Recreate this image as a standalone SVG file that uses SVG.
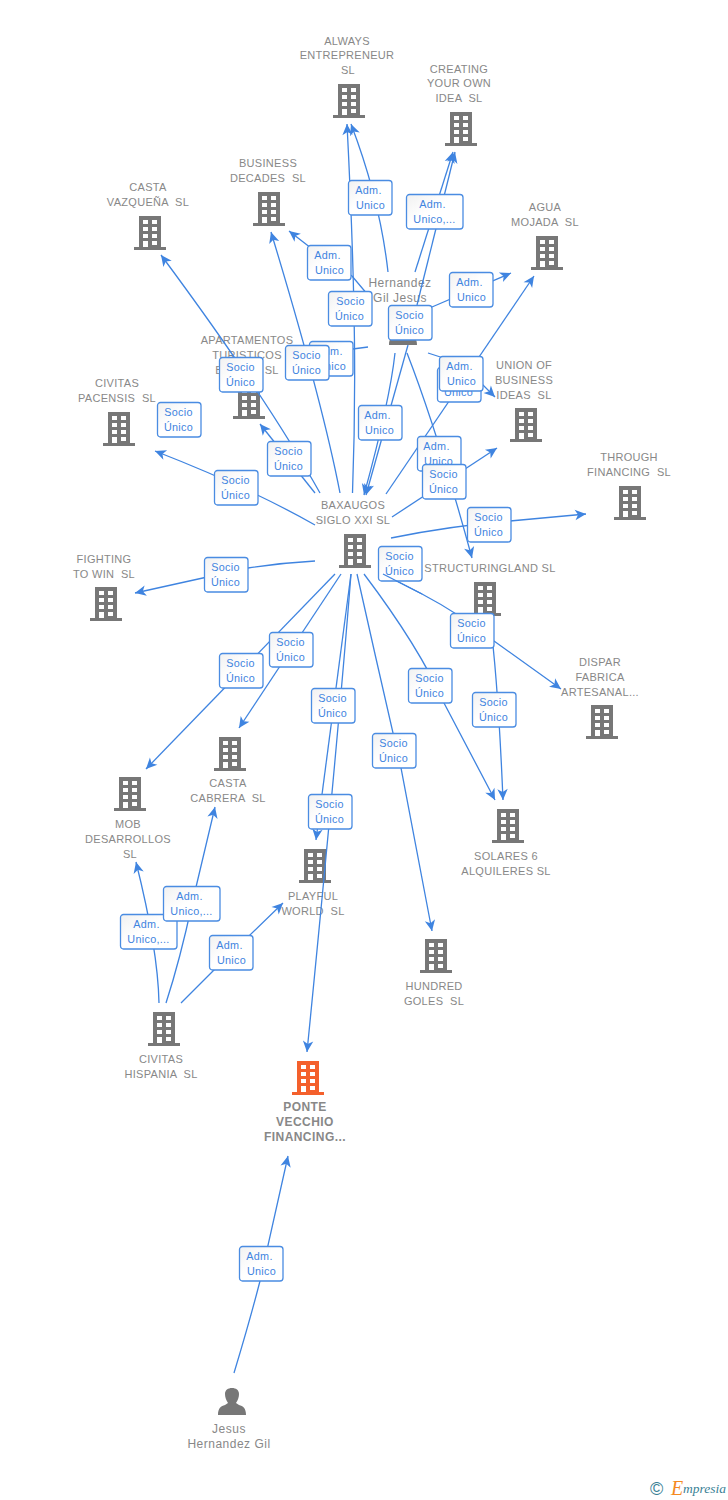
<svg xmlns="http://www.w3.org/2000/svg" width="728" height="1500" viewBox="0 0 728 1500">
<style>
text{font-family:"Liberation Sans",Arial,sans-serif;white-space:pre}
.n{font-size:11px;letter-spacing:.3px;fill:#888;text-anchor:middle}
.pn{font-size:12px;letter-spacing:.5px}
.o{font-weight:700;font-size:12px;letter-spacing:.45px}
.c path{fill:none;stroke:#3f84e0;stroke-width:1.3;marker-end:url(#a)}
.c path.p{marker-end:none}
.b rect{width:43.5px;height:34.5px;rx:3px;fill:url(#g);stroke:#4a8ce2;stroke-width:1.3}
.b rect.w{width:56.5px}
.b text{font-size:10.8px;letter-spacing:.3px;fill:#3f84e0;text-anchor:middle}
</style>
<defs>
<linearGradient id="g" x1="0" y1="0" x2="1" y2="1"><stop offset="0" stop-color="#f1f1f1"/><stop offset=".45" stop-color="#fff"/></linearGradient>
<marker id="a" markerUnits="userSpaceOnUse" markerWidth="14" markerHeight="14" viewBox="-12 -7 14 14" refX="0" refY="0" orient="auto"><path d="M0,0L-11,-5.2L-8,0L-11,5.2Z" fill="#3f84e0"/></marker>
<symbol id="bd" viewBox="0 0 32 34" width="32" height="34" overflow="visible">
<path fill-rule="evenodd" d="M5,0H27V31H32V34H0V31H5ZM9,4V8H14V4ZM18,4V8H23V4ZM9,11V15H14V11ZM18,11V15H23V11ZM9,18V22H14V18ZM18,18V22H23V18ZM9,25V31H14V25ZM18,25V29H23V25Z" fill="#777"/>
</symbol>
<symbol id="bo" viewBox="0 0 32 34" width="32" height="34" overflow="visible">
<path fill-rule="evenodd" d="M5,0H27V31H32V34H0V31H5ZM9,4V8H14V4ZM18,4V8H23V4ZM9,11V15H14V11ZM18,11V15H23V11ZM9,18V22H14V18ZM18,18V22H23V18ZM9,25V31H14V25ZM18,25V29H23V25Z" fill="#f4602c"/>
</symbol>
<path id="pr" d="M218,1415C218,1408 221,1406 225,1405L228,1403C226,1400 225,1397 225,1394C225,1390 228,1388 232,1388C236,1388 239,1390 239,1394C239,1397 238,1400 236,1403L239,1405C243,1406 246,1408 246,1415Z" fill="#777"/>
</defs>
<rect width="728" height="1500" fill="#fff"/>

<g id="nodes">
<g id="n-always"><use href="#bd" x="333" y="84"/><text class="n" x="347" y="45">ALWAYS</text><text class="n" x="347" y="59">ENTREPRENEUR</text><text class="n" x="348" y="74">SL</text></g>
<g id="n-creating"><use href="#bd" x="445" y="112"/><text class="n" x="459" y="73">CREATING</text><text class="n" x="459" y="87">YOUR OWN</text><text class="n" x="459" y="102">IDEA  SL</text></g>
<g id="n-business"><use href="#bd" x="253" y="192"/><text class="n" x="268" y="167">BUSINESS</text><text class="n" x="268" y="182">DECADES  SL</text></g>
<g id="n-casta-v"><use href="#bd" x="134" y="216"/><text class="n" x="148" y="191">CASTA</text><text class="n" x="148" y="206">VAZQUEÑA  SL</text></g>
<g id="n-agua"><use href="#bd" x="531" y="236"/><text class="n" x="545" y="211">AGUA</text><text class="n" x="545" y="226">MOJADA  SL</text></g>
<g id="n-hernandez"><use href="#pr" x="171" y="-1070"/><text class="n pn" x="400" y="287">Hernandez</text><text class="n pn" x="400" y="302">Gil Jesus</text></g>
<g id="n-apartamentos"><use href="#bd" x="233" y="385"/><text class="n" x="247" y="344">APARTAMENTOS</text><text class="n" x="247" y="359">TURISTICOS</text><text class="n" x="247" y="374">BAIXOS  SL</text></g>
<g id="n-pacensis"><use href="#bd" x="103" y="412"/><text class="n" x="117" y="387">CIVITAS</text><text class="n" x="117" y="402">PACENSIS  SL</text></g>
<g id="n-union"><use href="#bd" x="510" y="408"/><text class="n" x="524" y="369">UNION OF</text><text class="n" x="524" y="384">BUSINESS</text><text class="n" x="524" y="399">IDEAS  SL</text></g>
<g id="n-through"><use href="#bd" x="614" y="486"/><text class="n" x="629" y="461">THROUGH</text><text class="n" x="629" y="476">FINANCING  SL</text></g>
<g id="n-baxaugos"><use href="#bd" x="339" y="534"/><text class="n" x="353" y="509">BAXAUGOS</text><text class="n" x="353" y="524">SIGLO XXI SL</text></g>
<g id="n-fighting"><use href="#bd" x="90" y="587"/><text class="n" x="104" y="563">FIGHTING</text><text class="n" x="104" y="578">TO WIN  SL</text></g>
<g id="n-structuring"><use href="#bd" x="469" y="582"/><text class="n" x="490" y="572">STRUCTURINGLAND SL</text></g>
<g id="n-dispar"><use href="#bd" x="586" y="705"/><text class="n" x="600" y="666">DISPAR</text><text class="n" x="600" y="681">FABRICA</text><text class="n" x="600" y="696">ARTESANAL...</text></g>
<g id="n-cabrera"><use href="#bd" x="214" y="737"/><text class="n" x="228" y="787">CASTA</text><text class="n" x="228" y="802">CABRERA  SL</text></g>
<g id="n-mob"><use href="#bd" x="114" y="777"/><text class="n" x="128" y="828">MOB</text><text class="n" x="128" y="843">DESARROLLOS</text><text class="n" x="130" y="858">SL</text></g>
<g id="n-solares"><use href="#bd" x="492" y="809"/><text class="n" x="506" y="860">SOLARES 6</text><text class="n" x="506" y="875">ALQUILERES SL</text></g>
<g id="n-playful"><use href="#bd" x="299" y="849"/><text class="n" x="313" y="900">PLAYFUL</text><text class="n" x="313" y="915">WORLD  SL</text></g>
<g id="n-hundred"><use href="#bd" x="420" y="939"/><text class="n" x="434" y="990">HUNDRED</text><text class="n" x="434" y="1005">GOLES  SL</text></g>
<g id="n-hispania"><use href="#bd" x="148" y="1012"/><text class="n" x="161" y="1063">CIVITAS</text><text class="n" x="161" y="1078">HISPANIA  SL</text></g>
<g id="n-ponte"><use href="#bo" x="292" y="1061"/><text class="n o" x="305" y="1111">PONTE</text><text class="n o" x="305" y="1126">VECCHIO</text><text class="n o" x="305" y="1141">FINANCING...</text></g>
<g id="n-jesus"><use href="#pr"/><text class="n pn" x="229" y="1433">Jesus</text><text class="n pn" x="229" y="1448">Hernandez Gil</text></g>
</g>

<g id="connectors" class="c">
<path d="M388,272Q380,200 351,124"/>
<path d="M415,272L453,152"/>
<path d="M417,305L455,152"/>
<path d="M368,295L352,276L329,262L289,231"/>
<path d="M432,307L511,273"/>
<path class="p" d="M368,347L345,350"/>
<path d="M428,353L462,364L495,397"/>
<path d="M395,353Q390,400 364,495"/>
<path d="M408,345L366,495"/>
<path d="M407,353Q437,430 472,558"/>
<path d="M392,517L497,448"/>
<path d="M391,538Q450,526 510,521L586,514"/>
<path d="M352.500,493C356,400 356,300 347,124"/>
<path d="M340,493Q322,400 271,232"/>
<path d="M320,493Q265,395 161,255"/>
<path d="M315,493L260,424"/>
<path d="M386,494L534,276"/>
<path d="M315,525Q250,488 155,451"/>
<path d="M315,561Q280,563 248,568L135,593"/>
<path d="M335,574L146,769"/>
<path d="M341,574L239,728"/>
<path d="M351,574L316,840"/>
<path d="M351,574Q338,740 307,1052"/>
<path d="M357,574C372,640 385,700 401,768L432,931"/>
<path d="M364,574C395,615 425,660 444,703L495,800"/>
<path d="M383,574L422,594Q460,614 494,641L561,689"/>
<path d="M490,620Q498,680 503,800"/>
<path d="M159,1003Q158,950 136,862"/>
<path d="M166,1003Q180,960 192,904L215,807"/>
<path d="M181,1003L214,970L283,903"/>
<path d="M234,1373Q250,1320 260,1281L288,1156"/>
</g>

<g id="edge-labels" class="b">
<g transform="translate(348.500,180.500)"><rect/><text x="20" y="13">Adm.</text><text x="22" y="28">Unico</text></g>
<g transform="translate(406.500,194.500)"><rect class="w"/><text x="26" y="13">Adm.</text><text x="28" y="28">Unico,...</text></g>
<g transform="translate(307.500,245.500)"><rect/><text x="20" y="13">Adm.</text><text x="22" y="28">Unico</text></g>
<g transform="translate(449.500,272.500)"><rect/><text x="20" y="13">Adm.</text><text x="22" y="28">Unico</text></g>
<g transform="translate(328.500,291.500)"><rect/><text x="22" y="13">Socio</text><text x="21" y="28">Único</text></g>
<g transform="translate(309.500,341.500)"><rect/><text x="20" y="13">Adm.</text><text x="22" y="28">Unico</text></g>
<g transform="translate(388.500,305.500)"><rect/><text x="21" y="13">Socio</text><text x="21" y="28">Único</text></g>
<g transform="translate(285.500,345.500)"><rect/><text x="21" y="13">Socio</text><text x="21" y="28">Único</text></g>
<g transform="translate(219.500,357.500)"><rect/><text x="21" y="13">Socio</text><text x="21" y="28">Único</text></g>
<g transform="translate(157.500,402.500)"><rect/><text x="21" y="13">Socio</text><text x="21" y="28">Único</text></g>
<g transform="translate(437.500,367.500)"><rect/><text x="21" y="13">Socio</text><text x="21" y="28">Único</text></g>
<g transform="translate(439.500,356.500)"><rect/><text x="20" y="13">Adm.</text><text x="22" y="28">Unico</text></g>
<g transform="translate(358.500,405.500)"><rect/><text x="19" y="13">Adm.</text><text x="21" y="28">Unico</text></g>
<g transform="translate(267.500,441.500)"><rect/><text x="21" y="13">Socio</text><text x="21" y="28">Único</text></g>
<g transform="translate(417.500,436.500)"><rect/><text x="19" y="13">Adm.</text><text x="21" y="28">Unico</text></g>
<g transform="translate(422.500,464.500)"><rect/><text x="21" y="13">Socio</text><text x="21" y="28">Único</text></g>
<g transform="translate(214.500,470.500)"><rect/><text x="21" y="13">Socio</text><text x="21" y="28">Único</text></g>
<g transform="translate(467.500,507.500)"><rect/><text x="21" y="13">Socio</text><text x="21" y="28">Único</text></g>
<g transform="translate(378.500,546.500)"><rect/><text x="21" y="13">Socio</text><text x="21" y="28">Único</text></g>
<g transform="translate(204.500,557.500)"><rect/><text x="21" y="13">Socio</text><text x="21" y="28">Único</text></g>
<g transform="translate(450.500,613.500)"><rect/><text x="21" y="13">Socio</text><text x="21" y="28">Único</text></g>
<g transform="translate(269.500,632.500)"><rect/><text x="21" y="13">Socio</text><text x="21" y="28">Único</text></g>
<g transform="translate(219.500,653.500)"><rect/><text x="21" y="13">Socio</text><text x="21" y="28">Único</text></g>
<g transform="translate(408.500,668.500)"><rect/><text x="21" y="13">Socio</text><text x="21" y="28">Único</text></g>
<g transform="translate(311.500,688.500)"><rect/><text x="21" y="13">Socio</text><text x="21" y="28">Único</text></g>
<g transform="translate(472.500,692.500)"><rect/><text x="21" y="13">Socio</text><text x="21" y="28">Único</text></g>
<g transform="translate(372.500,733.500)"><rect/><text x="21" y="13">Socio</text><text x="21" y="28">Único</text></g>
<g transform="translate(308.500,794.500)"><rect/><text x="21" y="13">Socio</text><text x="21" y="28">Único</text></g>
<g transform="translate(120.500,914.500)"><rect class="w"/><text x="26" y="13">Adm.</text><text x="28" y="28">Unico,...</text></g>
<g transform="translate(163.500,886.500)"><rect class="w"/><text x="26" y="13">Adm.</text><text x="28" y="28">Unico,...</text></g>
<g transform="translate(209.500,935.500)"><rect/><text x="20" y="13">Adm.</text><text x="22" y="28">Unico</text></g>
<g transform="translate(239.500,1246.500)"><rect/><text x="20" y="13">Adm.</text><text x="22" y="28">Unico</text></g>
</g>

<g id="connector-over-label" class="c"><path class="p" d="M383,574L422,594"/></g>

<g id="logo">
<text x="650" y="1495" font-size="18" fill="#3a7f95">©</text>
<text x="671" y="1495" font-size="20" fill="#f58a1f" style="font-family:'Liberation Serif',serif;font-style:italic">E</text>
<text x="683" y="1493" font-size="13.500" fill="#3a7f95" style="font-family:'Liberation Serif',serif;font-style:italic">mpresia</text>
</g>
</svg>
